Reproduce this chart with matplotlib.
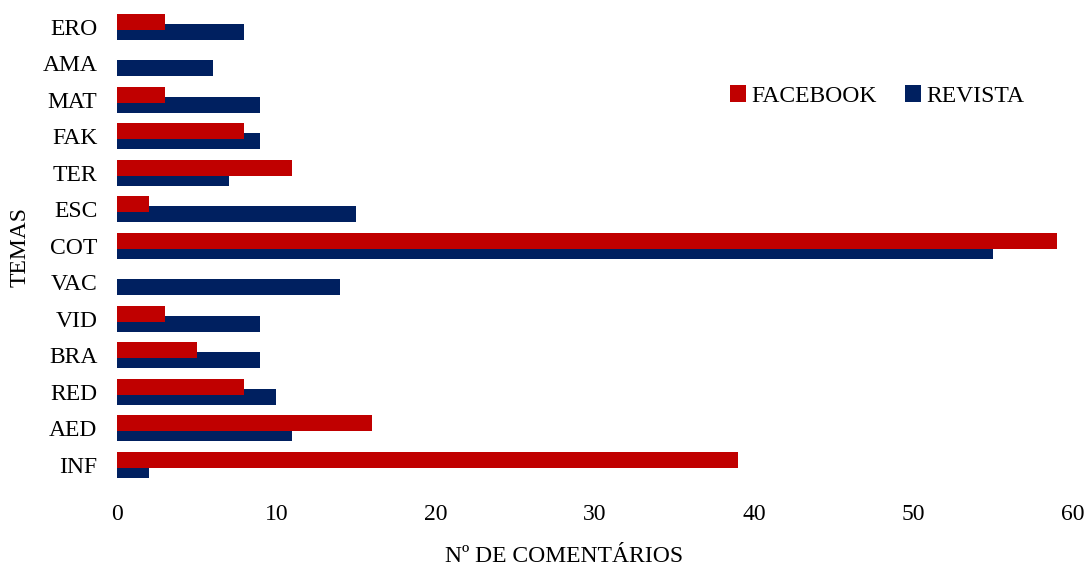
import numpy as np
import matplotlib.pyplot as plt

plt.rcParams['font.family'] = ['Liberation Serif', 'DejaVu Serif']

# themes listed bottom to top
temas    = ['INF', 'AED', 'RED', 'BRA', 'VID', 'VAC', 'COT', 'ESC', 'TER', 'FAK', 'MAT', 'AMA', 'ERO']
facebook = [39, 16, 8, 5, 3, 0, 59, 2, 11, 8, 3, 0, 3]
revista  = [2, 11, 10, 9, 9, 14, 55, 15, 7, 9, 9, 6, 8]

red  = '#C00000'
navy = '#002060'

fig = plt.figure(figsize=(10.86, 5.67), dpi=100)
W, H = 1086, 567
ax = fig.add_axes([117/W, 1 - 490.5/H, (1073-117)/W, (490.5-5)/H])

y = np.arange(len(temas))
h = 0.44
off = 0.137
ax.barh(y - off, revista, height=h, color=navy, label='REVISTA', zorder=2)
ax.barh(y + off, facebook, height=h, color=red, label='FACEBOOK', zorder=3)

ax.set_xlim(0, 60)
ax.set_ylim(-0.7, 12.6)
ax.set_xticks(np.arange(0, 61, 10))
ax.set_yticks(y)
ax.set_yticklabels(temas)
ax.tick_params(axis='y', length=0, pad=14, labelsize=17)
ax.tick_params(axis='x', length=0, pad=10, labelsize=17)
for s in ax.spines.values():
    s.set_visible(False)

hs, ls = ax.get_legend_handles_labels()
ax.legend(hs[::-1], ls[::-1], loc='center', bbox_to_anchor=(0.795, 0.813), ncol=2,
          frameon=False, fontsize=17, handlelength=0.7, handleheight=0.7,
          handletextpad=0.2, columnspacing=1.2, borderaxespad=0)

fig.text(564/W, 1 - 557/H, 'Nº DE COMENTÁRIOS', ha='center', va='center', fontsize=17)
fig.text(20/W, 1 - 247/H, 'TEMAS', ha='center', va='center', rotation=90, fontsize=17)

fig.savefig('out.png', dpi=100)
